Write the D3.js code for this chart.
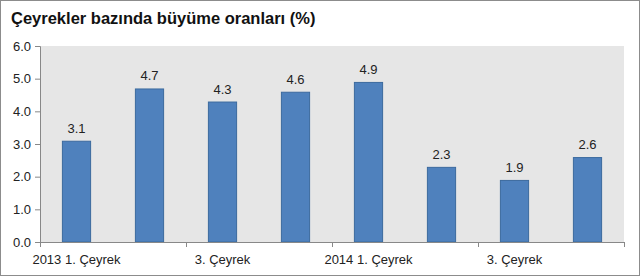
<!DOCTYPE html>
<html><head><meta charset="utf-8">
<script src="https://cdn.jsdelivr.net/npm/d3@7"></script>
<style>body{margin:0;background:#fff}svg{display:block;font-family:"Liberation Sans",Arial,sans-serif}</style>
</head><body>
<script>
const title = "Çeyrekler bazında büyüme oranları (%)";
const categories = ["2013 1. Çeyrek","2. Çeyrek","3. Çeyrek","4. Çeyrek","2014 1. Çeyrek","2. Çeyrek","3. Çeyrek","4. Çeyrek"];
const shownLabels = ["2013 1. Çeyrek","","3. Çeyrek","","2014 1. Çeyrek","","3. Çeyrek",""];
const values = [3.1,4.7,4.3,4.6,4.9,2.3,1.9,2.6];
const yTicks = [0,1,2,3,4,5,6];

const W=640,H=276;
const m={l:40,r:16,t:46,b:34};
const svg=d3.select("body").append("svg").attr("width",W).attr("height",H);
svg.append("rect").attr("x",0.5).attr("y",0.5).attr("width",W-1).attr("height",H-1).attr("fill","#fff").attr("stroke","#8c8c8c");
svg.append("text").attr("x",11).attr("y",24).attr("font-size",16.5).attr("font-weight","bold").attr("fill","#111").text(title);

const idx=d3.range(categories.length);
const x=d3.scaleBand().domain(idx).range([m.l,W-m.r]).paddingInner(0.6).paddingOuter(0.3);
const y=d3.scaleLinear().domain([0,6]).range([H-m.b,m.t]);

svg.append("rect").attr("x",m.l).attr("y",m.t).attr("width",W-m.r-m.l).attr("height",H-m.b-m.t).attr("fill","#e6e6e6");

svg.selectAll("rect.bar").data(values).join("rect").attr("class","bar")
 .attr("x",(d,i)=>x(i)+0.5).attr("y",d=>y(d)+0.5)
 .attr("width",x.bandwidth()-1).attr("height",d=>y(0)-y(d)-0.5)
 .attr("fill","#4f81bd").attr("stroke","#3b6a9e");

svg.selectAll("text.val").data(values).join("text").attr("class","val")
 .attr("x",(d,i)=>x(i)+x.bandwidth()/2).attr("y",d=>y(d)-8)
 .attr("text-anchor","middle").attr("font-size",13).attr("fill","#222").text(d=>d.toFixed(1));

const ya=d3.axisLeft(y).tickValues(yTicks).tickFormat(d3.format(".1f")).tickSize(5).tickPadding(4);
const gy=svg.append("g").attr("transform",`translate(${m.l},0)`).call(ya);
gy.selectAll("text").attr("font-size",13).attr("fill","#222").attr("font-family","Liberation Sans, Arial");
gy.selectAll("line,path").attr("stroke","#888");
gy.select(".domain").attr("d",`M-5,${y(6)+0.5}H0.5V${y(0)+0.5}`);

const gx=svg.append("g").attr("transform",`translate(0,${y(0)})`);
gx.append("line").attr("x1",m.l).attr("x2",W-m.r).attr("y1",0.5).attr("y2",0.5).attr("stroke","#888");
const tickPos=d3.range(0,categories.length+1,2).map(i=>m.l+i*x.step());
gx.selectAll("line.t").data(tickPos).join("line").attr("class","t")
 .attr("x1",d=>Math.round(d)+0.5).attr("x2",d=>Math.round(d)+0.5).attr("y1",0).attr("y2",5).attr("stroke","#888");
gx.selectAll("text.lab").data(idx).join("text").attr("class","lab")
 .attr("x",i=>x(i)+x.bandwidth()/2).attr("y",22).attr("text-anchor","middle")
 .attr("font-size",13).attr("fill","#222").text(i=>shownLabels[i]);
</script>
</body></html>
